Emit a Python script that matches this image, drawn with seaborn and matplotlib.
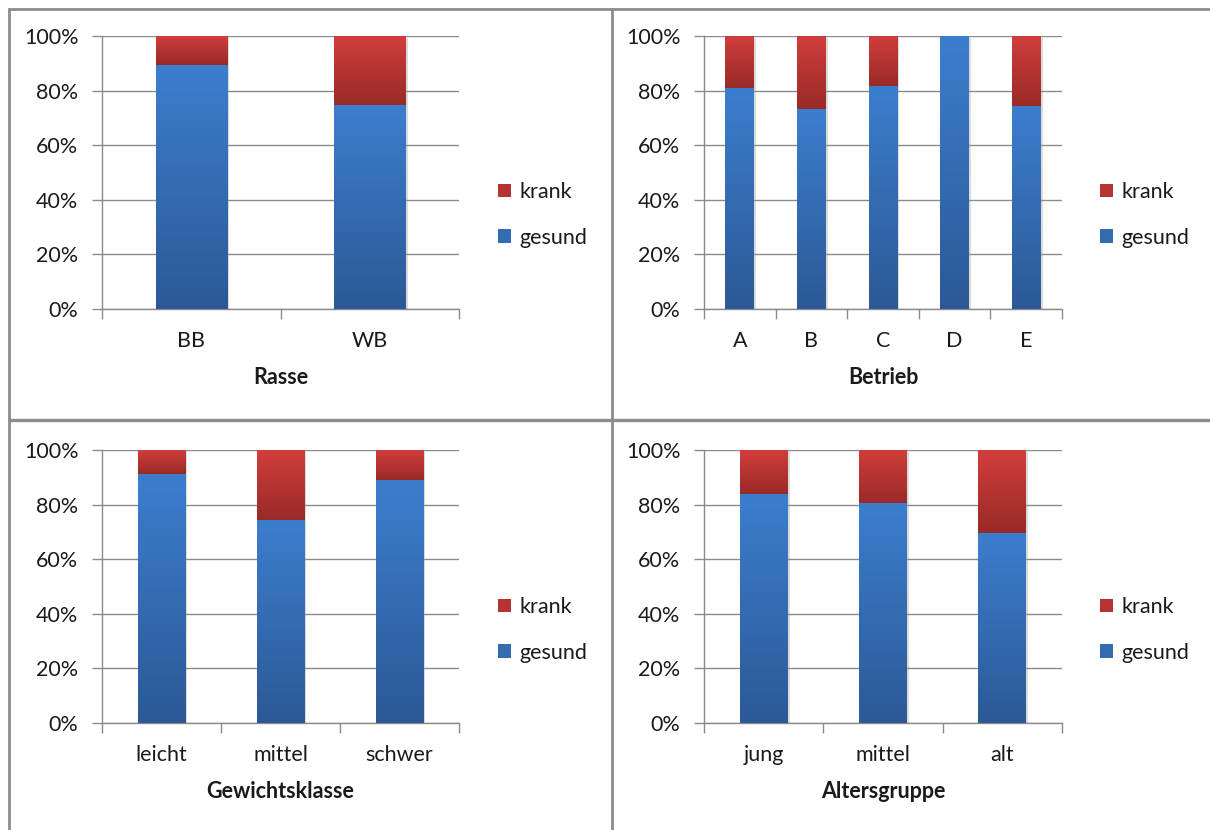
import numpy as np
import matplotlib
matplotlib.use("Agg")
import matplotlib.pyplot as plt
from matplotlib.lines import Line2D
from matplotlib.patches import Patch
from matplotlib.ticker import FixedLocator, FuncFormatter
import matplotlib.patheffects as pe
import seaborn as sns

# ---- data (shares in percent) ----
rasse_cats = ["BB", "WB"]
rasse_gesund = [89.3, 74.7]
rasse_krank = [10.7, 25.3]

betrieb_cats = ["A", "B", "C", "D", "E"]
betrieb_gesund = [80.8, 73.2, 81.6, 100.0, 74.3]
betrieb_krank = [19.2, 26.8, 18.4, 0.0, 25.7]

gewicht_cats = ["leicht", "mittel", "schwer"]
gewicht_gesund = [91.1, 74.5, 89.0]
gewicht_krank = [8.9, 25.5, 11.0]

alter_cats = ["jung", "mittel", "alt"]
alter_gesund = [83.9, 80.5, 69.5]
alter_krank = [16.1, 19.5, 30.5]

series_labels = ["krank", "gesund"]
y_ticks = [0, 20, 40, 60, 80, 100]

# ---- style ----
sns.set_theme(style="white")
plt.rcParams["font.family"] = ["Lato", "DejaVu Sans"]

W, H, DPI = 1210, 830, 100
GRID = "#8a8a8a"
TEXT = "#1a1a1a"
FS = 15.5
BLUE_TOP, BLUE_BOT = np.array([60, 126, 206]) / 255, np.array([44, 89, 150]) / 255
RED_TOP, RED_BOT = np.array([209, 62, 60]) / 255, np.array([153, 42, 40]) / 255

fig = plt.figure(figsize=(W / DPI, H / DPI), dpi=DPI)
fig.patch.set_facecolor("white")


def px_rect(left, top, right, bottom):
    return [left / W, 1 - bottom / H, (right - left) / W, (bottom - top) / H]


def gradient_fill(ax, patch, top, bot):
    x0, y0 = patch.get_x(), patch.get_y()
    w, h = patch.get_width(), patch.get_height()
    if h <= 0:
        return
    t = np.linspace(0, 1, 256)[:, None, None]
    img = top[None, None, :] * (1 - t) + bot[None, None, :] * t
    im = ax.imshow(img, extent=(x0, x0 + w, y0, y0 + h), origin="upper",
                   aspect="auto", zorder=patch.get_zorder() + 0.1,
                   interpolation="bilinear")
    im.set_clip_path(patch)


def panel(rect, cats, gesund, krank, xlabel, legend_xy):
    ax = fig.add_axes(px_rect(*rect))
    sns.barplot(x=cats, y=gesund, color=BLUE_BOT, width=0.4, ax=ax,
                saturation=1, linewidth=0, zorder=3)
    n_blue = len(ax.patches)
    sns.barplot(x=cats, y=krank, bottom=np.array(gesund), color=RED_BOT,
                width=0.4, ax=ax, saturation=1, linewidth=0, zorder=3)
    patches = list(ax.patches)
    shadow = [pe.SimplePatchShadow(offset=(1.5, -1.5), shadow_rgbFace="#9a9a9a",
                                   alpha=0.35), pe.Normal()]
    for i, p in enumerate(patches):
        if p.get_height() > 0:
            p.set_path_effects(shadow)
        if i < n_blue:
            gradient_fill(ax, p, BLUE_TOP, BLUE_BOT)
        else:
            gradient_fill(ax, p, RED_TOP, RED_BOT)

    n = len(cats)
    ax.set_xlim(-0.5, n - 0.5)
    ax.set_ylim(0, 100)
    ax.set_yticks(y_ticks)
    ax.yaxis.set_major_formatter(FuncFormatter(lambda v, _: f"{int(v)}%"))
    ax.yaxis.grid(True, color=GRID, linewidth=1.0)
    ax.set_axisbelow(True)
    ax.xaxis.set_minor_locator(FixedLocator(np.arange(-0.5, n, 1.0)))
    ax.tick_params(axis="x", which="major", length=0, pad=16,
                   labelsize=FS, labelcolor=TEXT)
    ax.tick_params(axis="x", which="minor", length=7, width=1.0,
                   color=GRID, direction="out", bottom=True)
    ax.tick_params(axis="y", which="major", length=7, width=1.0, color=GRID,
                   direction="out", left=True, pad=10, labelsize=FS,
                   labelcolor=TEXT)
    for side in ("top", "right"):
        ax.spines[side].set_visible(False)
    for side in ("left", "bottom"):
        ax.spines[side].set_color(GRID)
        ax.spines[side].set_linewidth(1.0)
    ax.set_ylabel("")
    ax.set_xlabel(xlabel, fontsize=FS, fontweight="bold", color=TEXT,
                  labelpad=11)

    handles = [Patch(facecolor=RED_TOP * 0.5 + RED_BOT * 0.5, edgecolor="none"),
               Patch(facecolor=BLUE_TOP * 0.5 + BLUE_BOT * 0.5, edgecolor="none")]
    ax.legend(handles, series_labels, loc="center left",
              bbox_to_anchor=(legend_xy[0] / W, 1 - legend_xy[1] / H),
              bbox_transform=fig.transFigure, frameon=False, fontsize=FS,
              handlelength=0.6, handleheight=0.6, handletextpad=0.4,
              labelspacing=1.2, borderpad=0, borderaxespad=0,
              labelcolor=TEXT)
    return ax


panel((102, 36, 459, 309), rasse_cats, rasse_gesund, rasse_krank, "Rasse",
      (498, 215))
panel((704, 36, 1062, 309), betrieb_cats, betrieb_gesund, betrieb_krank,
      "Betrieb", (1100, 215))
panel((102, 450, 459, 723), gewicht_cats, gewicht_gesund, gewicht_krank,
      "Gewichtsklasse", (498, 630))
panel((704, 450, 1062, 723), alter_cats, alter_gesund, alter_krank,
      "Altersgruppe", (1100, 630))

# panel frame lines
frame_kw = dict(color="#8c8c8c", linewidth=2.0, transform=fig.transFigure)
fig.add_artist(Line2D([9 / W, 1], [1 - 9 / H, 1 - 9 / H], **frame_kw))
fig.add_artist(Line2D([9 / W, 9 / W], [0, 1 - 9 / H], **frame_kw))
fig.add_artist(Line2D([612 / W, 612 / W], [0, 1 - 9 / H], **frame_kw))
fig.add_artist(Line2D([9 / W, 1], [1 - 420 / H, 1 - 420 / H],
                      **{**frame_kw, "linewidth": 2.4}))

fig.savefig("out.png", dpi=DPI, facecolor="white")
